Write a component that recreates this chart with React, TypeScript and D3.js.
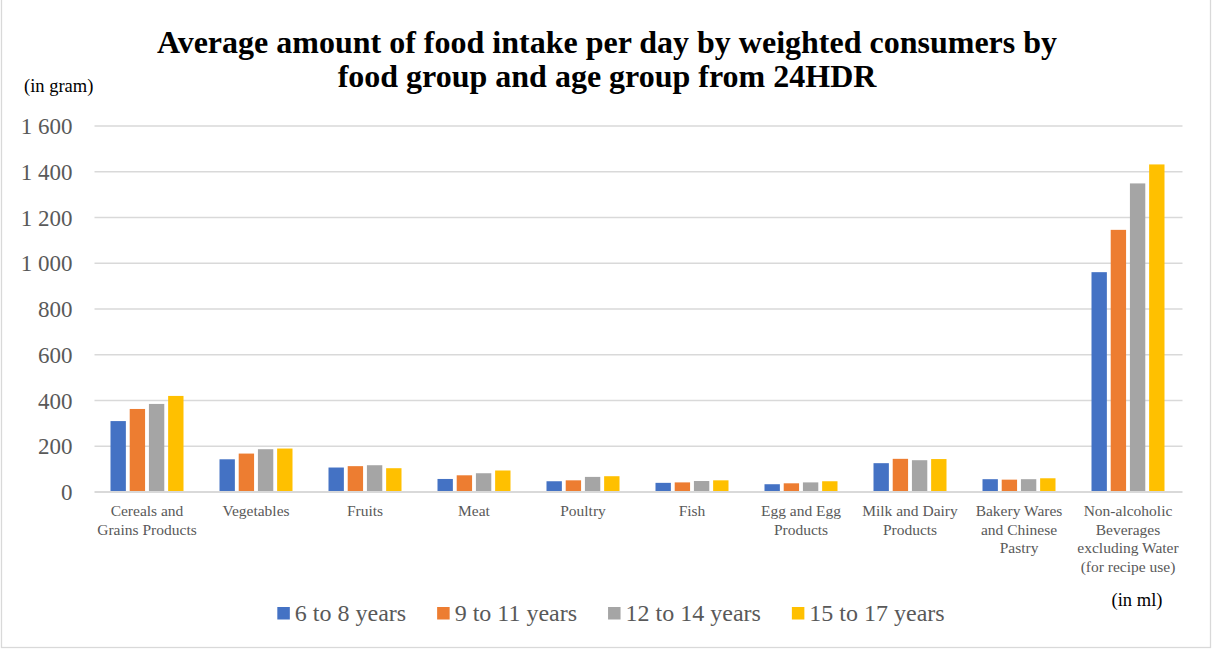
import React, { useEffect, useRef } from "react";
import * as d3 from "d3";

const categories: string[][] = [
  ["Cereals and", "Grains Products"],
  ["Vegetables"],
  ["Fruits"],
  ["Meat"],
  ["Poultry"],
  ["Fish"],
  ["Egg and Egg", "Products"],
  ["Milk and Dairy", "Products"],
  ["Bakery Wares", "and Chinese", "Pastry"],
  ["Non-alcoholic", "Beverages", "excluding Water", "(for recipe use)"],
];

const seriesNames = ["6 to 8 years", "9 to 11 years", "12 to 14 years", "15 to 17 years"];
const seriesColors = ["#4472C4", "#ED7D31", "#A5A5A5", "#FFC000"];

const age6to8 = [310, 143, 107, 57, 47, 40, 34, 126, 56, 961];
const age9to11 = [363, 168, 113, 73, 51, 42, 38, 145, 54, 1146];
const age12to14 = [385, 187, 117, 82, 66, 48, 42, 139, 56, 1349];
const age15to17 = [420, 190, 104, 94, 69, 51, 47, 144, 60, 1432];

const yTicks = [0, 200, 400, 600, 800, 1000, 1200, 1400, 1600];

const titleLines = [
  "Average amount of food intake per day by weighted consumers by",
  "food group and age group from 24HDR",
];

const W = 1212;
const H = 650;
const FONT = "'Liberation Serif', 'Times New Roman', serif";
const TEXT_GREY = "#595959";

export default function App() {
  const ref = useRef<SVGSVGElement>(null);

  useEffect(() => {
    const svg = d3.select(ref.current);
    svg.selectAll("*").remove();

    const series = [age6to8, age9to11, age12to14, age15to17];
    const margin = { left: 92.5, right: 1182.5, top: 126, bottom: 492 };

    // outer frame
    svg
      .append("rect")
      .attr("x", 1.5)
      .attr("y", -2)
      .attr("width", W - 3)
      .attr("height", H - 0.5)
      .attr("fill", "#fff")
      .attr("stroke", "#d9d9d9")
      .attr("stroke-width", 1.3);

    const x0 = d3
      .scaleBand<number>()
      .domain(d3.range(categories.length))
      .range([margin.left, margin.right])
      .paddingInner(0)
      .paddingOuter(0);

    const groupW = 73;
    const x1 = d3
      .scaleBand<number>()
      .domain(d3.range(series.length))
      .range([(x0.bandwidth() - groupW) / 2, (x0.bandwidth() + groupW) / 2])
      .paddingInner(0.2)
      .paddingOuter(0);

    const y = d3.scaleLinear().domain([0, 1600]).range([margin.bottom, margin.top]);

    // gridlines
    svg
      .append("g")
      .selectAll("line")
      .data(yTicks.filter((t) => t > 0))
      .join("line")
      .attr("x1", margin.left + 2)
      .attr("x2", margin.right)
      .attr("y1", (d) => y(d))
      .attr("y2", (d) => y(d))
      .attr("stroke", "#d9d9d9")
      .attr("stroke-width", 1.3);

    // y tick labels
    svg
      .append("g")
      .selectAll("text")
      .data(yTicks)
      .join("text")
      .attr("x", 72.5)
      .attr("y", (d) => y(d) + 8)
      .attr("text-anchor", "end")
      .attr("font-family", FONT)
      .attr("font-size", 23)
      .attr("fill", TEXT_GREY)
      .text((d) => (d >= 1000 ? `${Math.floor(d / 1000)} ${d3.format("03d")(d % 1000)}` : `${d}`));

    // bars
    const groups = svg
      .append("g")
      .selectAll("g")
      .data(categories.map((_, i) => i))
      .join("g")
      .attr("transform", (i) => `translate(${x0(i)},0)`);

    groups
      .selectAll("rect")
      .data((i) => series.map((s, k) => ({ k, v: s[i] })))
      .join("rect")
      .attr("x", (d) => x1(d.k)!)
      .attr("y", (d) => y(d.v))
      .attr("width", x1.bandwidth())
      .attr("height", (d) => y(0) - y(d.v))
      .attr("fill", (d) => seriesColors[d.k]);

    // baseline axis
    svg
      .append("line")
      .attr("x1", margin.left + 2)
      .attr("x2", margin.right)
      .attr("y1", y(0))
      .attr("y2", y(0))
      .attr("stroke", "#d9d9d9")
      .attr("stroke-width", 2);

    // category labels
    const catText = svg
      .append("g")
      .selectAll("text")
      .data(categories)
      .join("text")
      .attr("x", (_, i) => x0(i)! + x0.bandwidth() / 2)
      .attr("y", 516)
      .attr("text-anchor", "middle")
      .attr("font-family", FONT)
      .attr("font-size", 15.5)
      .attr("fill", TEXT_GREY);
    catText
      .selectAll("tspan")
      .data((d) => d)
      .join("tspan")
      .attr("x", function () {
        return d3.select((this as any).parentNode).attr("x");
      })
      .attr("dy", (_, j) => (j === 0 ? 0 : 18.7))
      .text((d) => d);

    // title
    svg
      .append("g")
      .selectAll("text")
      .data(titleLines)
      .join("text")
      .attr("x", 607)
      .attr("y", (_, i) => 53 + i * 34)
      .attr("text-anchor", "middle")
      .attr("font-family", FONT)
      .attr("font-weight", "bold")
      .attr("font-size", 32)
      .attr("fill", "#000")
      .text((d) => d);

    // unit notes
    svg
      .append("text")
      .attr("x", 24)
      .attr("y", 92)
      .attr("font-family", FONT)
      .attr("font-size", 18.5)
      .attr("fill", "#000")
      .text("(in gram)");
    svg
      .append("text")
      .attr("x", 1137)
      .attr("y", 606)
      .attr("text-anchor", "middle")
      .attr("font-family", FONT)
      .attr("font-size", 18.5)
      .attr("fill", "#000")
      .text("(in ml)");

    // legend
    const legend = svg.append("g");
    const items = legend
      .selectAll("g")
      .data(seriesNames)
      .join("g");
    items
      .append("rect")
      .attr("width", 12.5)
      .attr("height", 12.5)
      .attr("y", 607)
      .attr("fill", (_, i) => seriesColors[i]);
    items
      .append("text")
      .attr("x", 17.5)
      .attr("y", 621)
      .attr("font-family", FONT)
      .attr("font-size", 24)
      .attr("fill", TEXT_GREY)
      .text((d) => d);
    const widths: number[] = [];
    items.each(function () {
      const t = d3.select(this).select("text").node() as SVGTextElement;
      widths.push(17.5 + t.getComputedTextLength());
    });
    const gap = 31;
    const total = d3.sum(widths) + gap * (widths.length - 1);
    let cx = 611 - total / 2;
    items.attr("transform", (_, i) => {
      const tx = cx;
      cx += widths[i] + gap;
      return `translate(${tx},0)`;
    });
  }, []);

  return (
    <svg
      ref={ref}
      width={W}
      height={H}
      style={{ position: "absolute", left: 0, top: 0, background: "#fff" }}
    />
  );
}
